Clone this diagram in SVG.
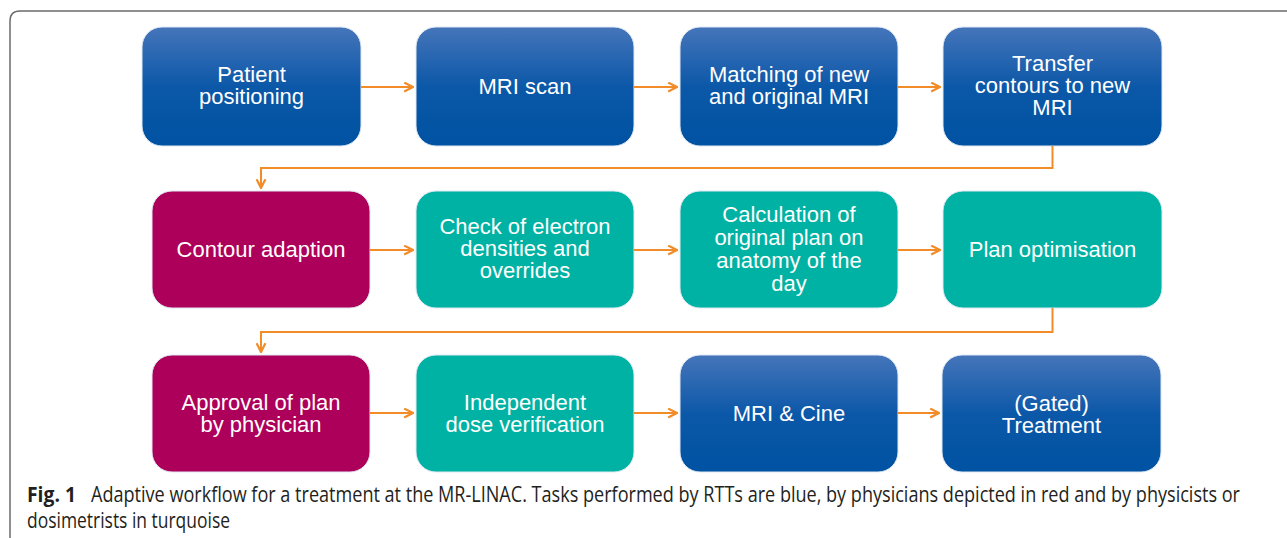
<svg xmlns="http://www.w3.org/2000/svg" width="1287" height="538" viewBox="0 0 1287 538">
  <defs>
    <linearGradient id="blueGrad" x1="0" y1="0" x2="0" y2="1">
      <stop offset="0" stop-color="#4575ba"/>
      <stop offset="0.5" stop-color="#0c58a8"/>
      <stop offset="1" stop-color="#0052a2"/>
    </linearGradient>
    <marker id="arr" viewBox="0 0 10 10" refX="9" refY="5" markerWidth="11" markerHeight="11" markerUnits="userSpaceOnUse" orient="auto">
      <path d="M1,1 L9,5 L1,9" fill="none" stroke="#f28c28" stroke-width="2"/>
    </marker>
  </defs>
  <style>
    .box { stroke: #dfe8f2; stroke-width: 1; }
    .blue { fill: url(#blueGrad); }
    .red { fill: #ad005a; }
    .teal { fill: #00b2a3; }
    .lbl { font-family: "Liberation Sans", Arial, sans-serif; font-size: 22px; fill: #ffffff; text-anchor: middle; }
    .conn { fill: none; stroke: #f28c28; stroke-width: 2; marker-end: url(#arr); }
    .cap { font-family: "Open Sans", "Noto Sans", sans-serif; font-size: 22px; fill: #231f20; }
  </style>
  <rect width="1287" height="538" fill="#ffffff"/>
  <path d="M10,540 L10,21 Q10,11 20,11 L1290,11" fill="none" stroke="#6b6b6b" stroke-width="1.5"/>

  <g id="n1"><rect class="box blue" x="142" y="27" width="219" height="119" rx="20"/>
    <text class="lbl" x="251.5" y="82">Patient</text><text class="lbl" x="251.5" y="104">positioning</text></g>
  <g id="n2"><rect class="box blue" x="416" y="27" width="218" height="119" rx="20"/>
    <text class="lbl" x="525" y="94">MRI scan</text></g>
  <g id="n3"><rect class="box blue" x="680" y="27" width="218" height="119" rx="20"/>
    <text class="lbl" x="789" y="82">Matching of new</text><text class="lbl" x="789" y="104">and original MRI</text></g>
  <g id="n4"><rect class="box blue" x="943" y="27" width="219" height="119" rx="20"/>
    <text class="lbl" x="1052.5" y="71">Transfer</text><text class="lbl" x="1052.5" y="93">contours to new</text><text class="lbl" x="1052.5" y="115">MRI</text></g>

  <g id="n5"><rect class="box red" x="152" y="191" width="218" height="117" rx="20"/>
    <text class="lbl" x="261" y="257">Contour adaption</text></g>
  <g id="n6"><rect class="box teal" x="416" y="191" width="218" height="117" rx="20"/>
    <text class="lbl" x="525" y="234">Check of electron</text><text class="lbl" x="525" y="256">densities and</text><text class="lbl" x="525" y="278">overrides</text></g>
  <g id="n7"><rect class="box teal" x="680" y="191" width="218" height="117" rx="20"/>
    <text class="lbl" x="789" y="222">Calculation of</text><text class="lbl" x="789" y="245">original plan on</text><text class="lbl" x="789" y="268">anatomy of the</text><text class="lbl" x="789" y="291">day</text></g>
  <g id="n8"><rect class="box teal" x="943" y="191" width="219" height="117" rx="20"/>
    <text class="lbl" x="1052.5" y="257">Plan optimisation</text></g>

  <g id="n9"><rect class="box red" x="152" y="355" width="218" height="117" rx="20"/>
    <text class="lbl" x="261" y="410">Approval of plan</text><text class="lbl" x="261" y="432">by physician</text></g>
  <g id="n10"><rect class="box teal" x="416" y="355" width="218" height="117" rx="20"/>
    <text class="lbl" x="525" y="410">Independent</text><text class="lbl" x="525" y="432">dose verification</text></g>
  <g id="n11"><rect class="box blue" x="680" y="355" width="218" height="117" rx="20"/>
    <text class="lbl" x="789" y="421">MRI &amp; Cine</text></g>
  <g id="n12"><rect class="box blue" x="942" y="355" width="219" height="117" rx="20"/>
    <text class="lbl" x="1051.5" y="411">(Gated)</text><text class="lbl" x="1051.5" y="433">Treatment</text></g>

  <g id="connectors">
    <line class="conn" x1="361" y1="87" x2="413" y2="87"/>
    <line class="conn" x1="634" y1="87" x2="677" y2="87"/>
    <line class="conn" x1="898" y1="87" x2="940" y2="87"/>
    <polyline class="conn" points="1052.5,146 1052.5,168 261,168 261,188"/>
    <line class="conn" x1="370" y1="250" x2="413" y2="250"/>
    <line class="conn" x1="634" y1="250" x2="677" y2="250"/>
    <line class="conn" x1="898" y1="250" x2="940" y2="250"/>
    <polyline class="conn" points="1052.5,308 1052.5,332 261,332 261,352"/>
    <line class="conn" x1="370" y1="413" x2="413" y2="413"/>
    <line class="conn" x1="634" y1="413" x2="677" y2="413"/>
    <line class="conn" x1="898" y1="413" x2="939" y2="413"/>
  </g>

  <g id="caption">
    <text class="cap" x="27" y="502" font-weight="bold" textLength="49" lengthAdjust="spacingAndGlyphs">Fig. 1</text>
    <text class="cap" x="91" y="502" textLength="1149" lengthAdjust="spacingAndGlyphs">Adaptive workflow for a treatment at the MR-LINAC. Tasks performed by RTTs are blue, by physicians depicted in red and by physicists or</text>
    <text class="cap" x="27" y="528" textLength="203" lengthAdjust="spacingAndGlyphs">dosimetrists in turquoise</text>
  </g>
</svg>
